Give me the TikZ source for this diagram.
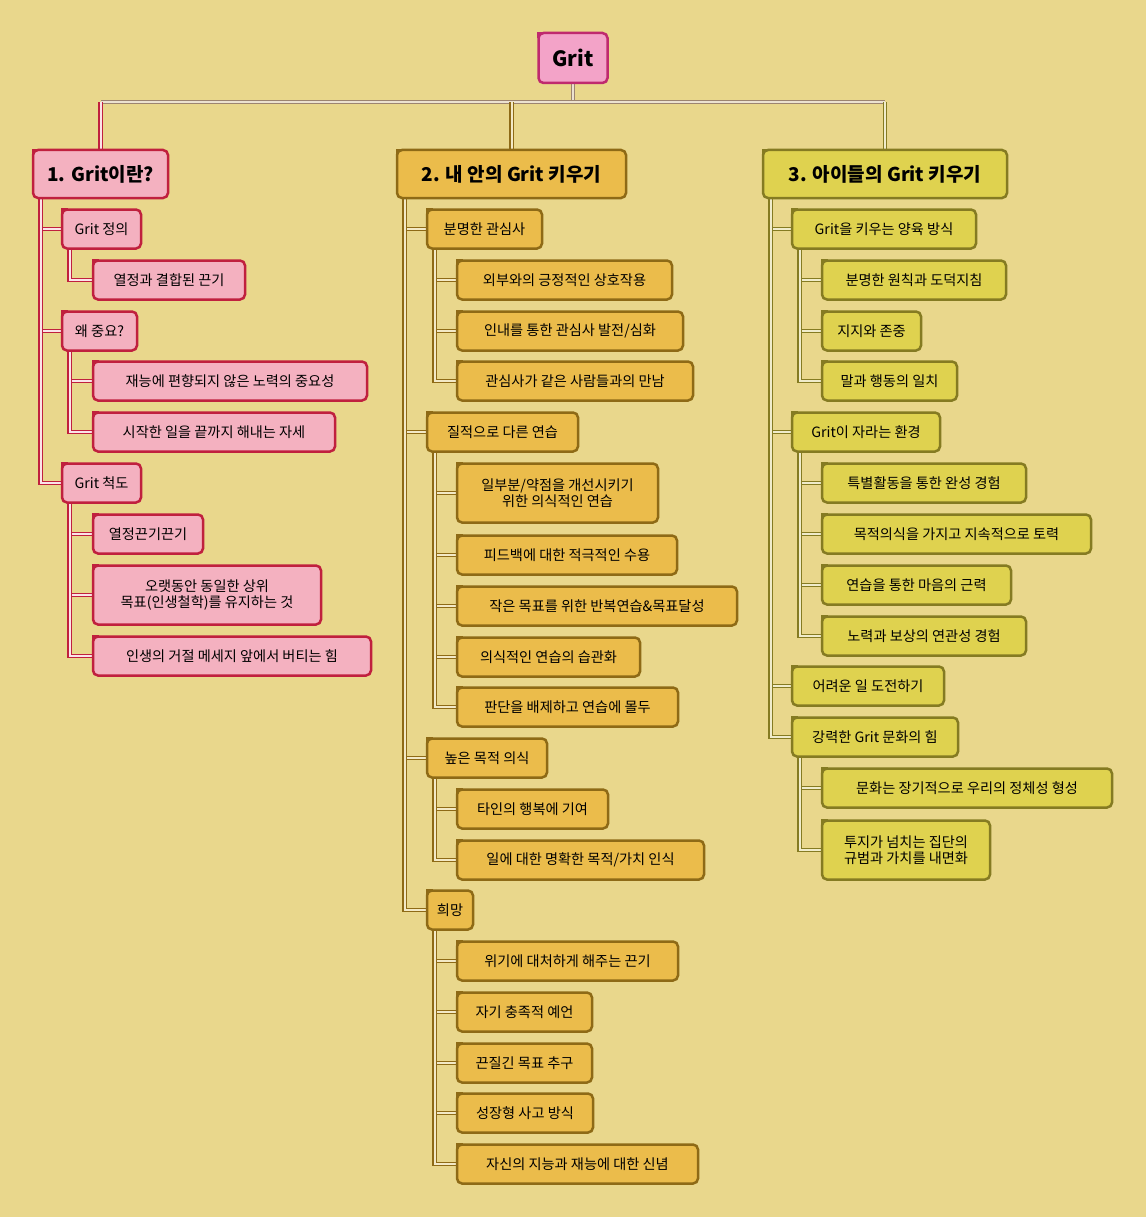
\documentclass[tikz,border=0pt]{standalone}
\usepackage{fontspec}
\setmainfont{Noto Sans CJK KR}
\usetikzlibrary{positioning}
\pgfdeclarelayer{background}
\pgfsetlayers{background,main}

\definecolor{bg}{HTML}{E9D78C}
\definecolor{rootfill}{HTML}{F3A3C8}
\definecolor{rootdraw}{HTML}{BF2A6E}
\definecolor{pinkfill}{HTML}{F4B1C0}
\definecolor{pinkdraw}{HTML}{C0203E}
\definecolor{orgfill}{HTML}{EBBC4B}
\definecolor{orgdraw}{HTML}{8E6A16}
\definecolor{yelfill}{HTML}{DFD24F}
\definecolor{yeldraw}{HTML}{857B22}
\definecolor{busout}{HTML}{9C8470}
\definecolor{busin}{HTML}{ECE2D0}
\definecolor{pinkin}{HTML}{FBE4E8}
\definecolor{orgin}{HTML}{F3E9C6}
\definecolor{yelin}{HTML}{F0ECCB}

\tikzset{
  box/.style 2 args={draw=#2, fill=#1, line width=2.5pt, rounded corners=5pt,
    outer sep=0pt, inner xsep=6pt, minimum height=39pt, align=center,
    append after command={\pgfextra{
      \fill[#1, sharp corners] (\tikzlastnode.north west) rectangle ++(5.5,5.5);
      \draw[#2, line width=2.5pt, sharp corners]
        ([yshift=-5.5pt]\tikzlastnode.north west) -- (\tikzlastnode.north west)
        -- ([xshift=5.5pt]\tikzlastnode.north west);
    }}},
  wd/.style={minimum width=#1},
  rootbox/.style={box={rootfill}{rootdraw}, minimum width=69pt, minimum height=50pt,
    font=\fontsize{21}{24}\selectfont\bfseries},
  pinkbox/.style={box={pinkfill}{pinkdraw}},
  orgbox/.style={box={orgfill}{orgdraw}},
  yelbox/.style={box={yelfill}{yeldraw}},
  headbox/.style={minimum height=48pt, font=\fontsize{19}{22}\selectfont\bfseries},
  link/.style 2 args={draw=#1, line width=1.4pt, double=#2, double distance=2pt},
  busline/.style={link={busout}{busin}},
  pinkline/.style={link={pinkdraw}{pinkin}},
  orgline/.style={link={orgdraw}{orgin}},
  yelline/.style={link={yeldraw}{yelin}},
}

\begin{document}
\begin{tikzpicture}[x=1pt,y=-1pt,font=\fontsize{14.2}{16}\selectfont]
\useasboundingbox (0,0) rectangle (1146,1217);

% root and main branches
\node[rootbox] (grit) at (573,58) {Grit};
\node[pinkbox,headbox,wd=135] (what) at (100.5,174) {1. Grit이란?};
\node[orgbox,headbox,wd=229] (mine) at (511.5,174) {2. 내 안의 Grit 키우기};
\node[yelbox,headbox,wd=244] (kids) at (885,174) {3. 아이들의 Grit 키우기};

% 1. Grit이란?
\node[pinkbox,anchor=west,wd=79] (def) at (62,229) {Grit 정의};
\node[pinkbox,anchor=west,wd=152] (def1) at (93,280) {열정과 결합된 끈기};
\node[pinkbox,anchor=west,wd=75] (why) at (62,331) {왜 중요?};
\node[pinkbox,anchor=west,wd=274] (why1) at (93,381) {재능에 편향되지 않은 노력의 중요성};
\node[pinkbox,anchor=west,wd=242] (why2) at (93,432) {시작한 일을 끝까지 해내는 자세};
\node[pinkbox,anchor=west,wd=79] (scale) at (62,483) {Grit 척도};
\node[pinkbox,anchor=west,wd=110] (scale1) at (93,534) {열정끈기끈기};
\node[pinkbox,anchor=west,wd=228,minimum height=59pt] (scale2) at (93,595) {오랫동안 동일한 상위\\목표(인생철학)를 유지하는 것};
\node[pinkbox,anchor=west,wd=278] (scale3) at (93,656) {인생의 거절 메세지 앞에서 버티는 힘};

% 2. 내 안의 Grit 키우기
\node[orgbox,anchor=west,wd=115] (int) at (427,229) {분명한 관심사};
\node[orgbox,anchor=west,wd=215] (int1) at (457,280) {외부와의 긍정적인 상호작용};
\node[orgbox,anchor=west,wd=226] (int2) at (457,331) {인내를 통한 관심사 발전/심화};
\node[orgbox,anchor=west,wd=236] (int3) at (457,381) {관심사가 같은 사람들과의 만남};
\node[orgbox,anchor=west,wd=151] (prac) at (427,432) {질적으로 다른 연습};
\node[orgbox,anchor=west,wd=201,minimum height=59pt] (prac1) at (457,493) {일부분/약점을 개선시키기\\위한 의식적인 연습};
\node[orgbox,anchor=west,wd=220] (prac2) at (457,555) {피드백에 대한 적극적인 수용};
\node[orgbox,anchor=west,wd=280] (prac3) at (457,606) {작은 목표를 위한 반복연습\&목표달성};
\node[orgbox,anchor=west,wd=183] (prac4) at (457,657) {의식적인 연습의 습관화};
\node[orgbox,anchor=west,wd=221] (prac5) at (457,707) {판단을 배제하고 연습에 몰두};
\node[orgbox,anchor=west,wd=120] (pur) at (427,758) {높은 목적 의식};
\node[orgbox,anchor=west,wd=151] (pur1) at (457,809) {타인의 행복에 기여};
\node[orgbox,anchor=west,wd=247] (pur2) at (457,860) {일에 대한 명확한 목적/가치 인식};
\node[orgbox,anchor=west,wd=46] (hope) at (427,910) {희망};
\node[orgbox,anchor=west,wd=221] (hope1) at (457,961) {위기에 대처하게 해주는 끈기};
\node[orgbox,anchor=west,wd=135] (hope2) at (457,1012) {자기 충족적 예언};
\node[orgbox,anchor=west,wd=135] (hope3) at (457,1063) {끈질긴 목표 추구};
\node[orgbox,anchor=west,wd=136] (hope4) at (457,1113) {성장형 사고 방식};
\node[orgbox,anchor=west,wd=241] (hope5) at (457,1164) {자신의 지능과 재능에 대한 신념};

% 3. 아이들의 Grit 키우기
\node[yelbox,anchor=west,wd=184] (par) at (792,229) {Grit을 키우는 양육 방식};
\node[yelbox,anchor=west,wd=184] (par1) at (822,280) {분명한 원칙과 도덕지침};
\node[yelbox,anchor=west,wd=99] (par2) at (822,331) {지지와 존중};
\node[yelbox,anchor=west,wd=135] (par3) at (822,381) {말과 행동의 일치};
\node[yelbox,anchor=west,wd=148] (env) at (792,432) {Grit이 자라는 환경};
\node[yelbox,anchor=west,wd=204] (env1) at (822,483) {특별활동을 통한 완성 경험};
\node[yelbox,anchor=west,wd=269] (env2) at (822,534) {목적의식을 가지고 지속적으로 토력};
\node[yelbox,anchor=west,wd=189] (env3) at (822,585) {연습을 통한 마음의 근력};
\node[yelbox,anchor=west,wd=204] (env4) at (822,636) {노력과 보상의 연관성 경험};
\node[yelbox,anchor=west,wd=152] (chal) at (792,686) {어려운 일 도전하기};
\node[yelbox,anchor=west,wd=166] (cul) at (792,737) {강력한 Grit 문화의 힘};
\node[yelbox,anchor=west,wd=290] (cul1) at (822,788) {문화는 장기적으로 우리의 정체성 형성};
\node[yelbox,anchor=west,wd=168,minimum height=59pt] (cul2) at (822,850) {투지가 넘치는 집단의\\규범과 가치를 내면화};

% background and connectors
\begin{pgfonlayer}{background}
\fill[bg] (0,0) rectangle (1146,1217);
\coordinate (bus) at (573,102);
\draw[busline] (grit.south) -- (bus);
\draw[busline] (what.north |- bus) -- (kids.north |- bus);
\draw[pinkline] (what.north |- bus) -- (what.north);
\draw[orgline] (mine.north |- bus) -- (mine.north);
\draw[yelline] (kids.north |- bus) -- (kids.north);

\foreach \c in {def,why,scale}
  \draw[pinkline] ([xshift=7.5pt]what.south west) |- (\c.west);
\draw[pinkline] ([xshift=7.5pt]def.south west) |- (def1.west);
\foreach \c in {why1,why2}
  \draw[pinkline] ([xshift=7.5pt]why.south west) |- (\c.west);
\foreach \c in {scale1,scale2,scale3}
  \draw[pinkline] ([xshift=7.5pt]scale.south west) |- (\c.west);

\foreach \c in {int,prac,pur,hope}
  \draw[orgline] ([xshift=7.5pt]mine.south west) |- (\c.west);
\foreach \c in {int1,int2,int3}
  \draw[orgline] ([xshift=7.5pt]int.south west) |- (\c.west);
\foreach \c in {prac1,prac2,prac3,prac4,prac5}
  \draw[orgline] ([xshift=7.5pt]prac.south west) |- (\c.west);
\foreach \c in {pur1,pur2}
  \draw[orgline] ([xshift=7.5pt]pur.south west) |- (\c.west);
\foreach \c in {hope1,hope2,hope3,hope4,hope5}
  \draw[orgline] ([xshift=7.5pt]hope.south west) |- (\c.west);

\foreach \c in {par,env,chal,cul}
  \draw[yelline] ([xshift=7.5pt]kids.south west) |- (\c.west);
\foreach \c in {par1,par2,par3}
  \draw[yelline] ([xshift=7.5pt]par.south west) |- (\c.west);
\foreach \c in {env1,env2,env3,env4}
  \draw[yelline] ([xshift=7.5pt]env.south west) |- (\c.west);
\foreach \c in {cul1,cul2}
  \draw[yelline] ([xshift=7.5pt]cul.south west) |- (\c.west);
\end{pgfonlayer}
\end{tikzpicture}
\end{document}
